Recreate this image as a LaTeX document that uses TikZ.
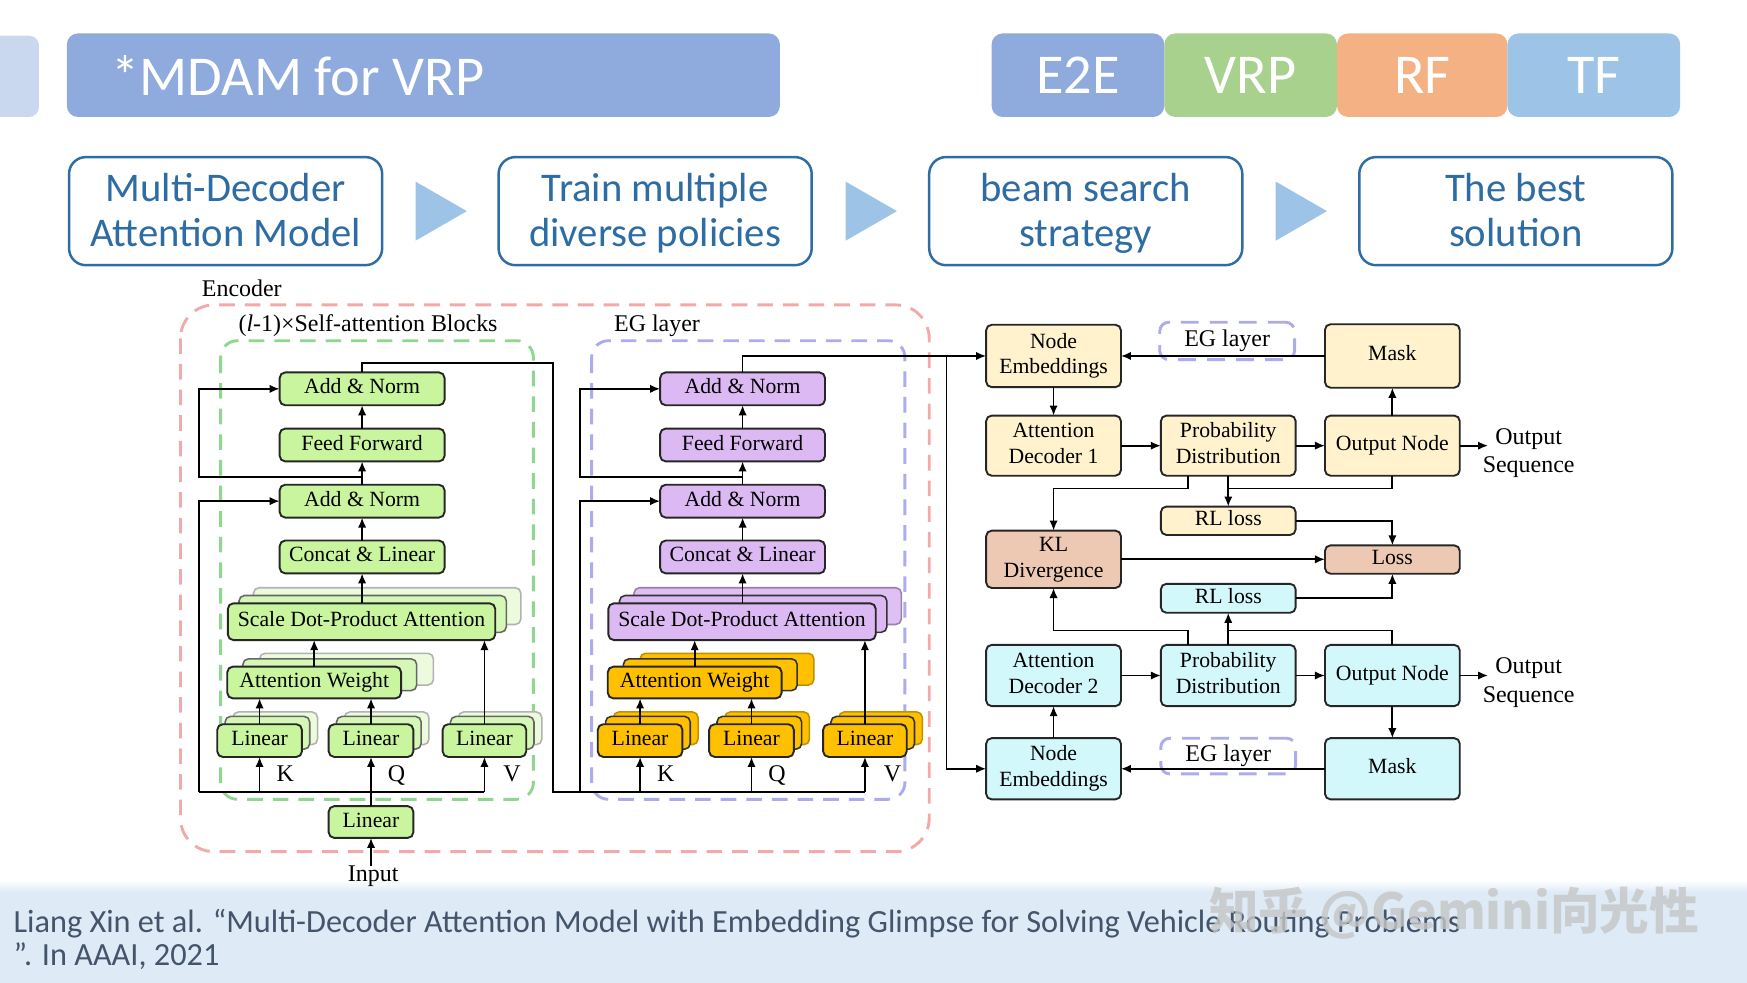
\documentclass[tikz,border=0pt]{standalone}
\usepackage{fontspec}
\setmainfont{Liberation Serif}
\newfontfamily\calfont{Carlito}
\newfontfamily\cjkwm{Noto Sans CJK SC}
\usetikzlibrary{arrows.meta,calc}
\pgfdeclarelayer{back}
\pgfdeclarelayer{mid}
\pgfsetlayers{back,mid,main}
\definecolor{titlec}{HTML}{8FAADC}
\definecolor{tabc}{HTML}{C9D7EF}
\definecolor{vrpc}{HTML}{A9D18E}
\definecolor{rfc}{HTML}{F4B183}
\definecolor{tfc}{HTML}{9DC3E6}
\definecolor{procc}{HTML}{2E6CA4}
\definecolor{bandc}{HTML}{DEEAF6}
\definecolor{refc}{HTML}{44546A}
\definecolor{gfill}{HTML}{C8F59E}
\definecolor{pfill}{HTML}{DCB9F3}
\definecolor{ofill}{HTML}{FFC000}
\definecolor{yfill}{HTML}{FFF2CC}
\definecolor{cfill}{HTML}{D2F8FB}
\definecolor{kfill}{HTML}{EDC8B2}
\definecolor{pinkd}{HTML}{F3A9A9}
\definecolor{greend}{HTML}{8FD68F}
\definecolor{lavd}{HTML}{ABABEE}
\newcommand\dgmfont{\fontsize{19.5}{23}\selectfont}
\newcommand\lblfont{\fontsize{21.5}{25.5}\selectfont}
\newcommand\dstrut{\rule[-5pt]{0pt}{19pt}}
\newcommand\lstrut{\rule[-5.5pt]{0pt}{21pt}}
\newcommand\pstrut{\rule[-6.5pt]{0pt}{36pt}}
\newcommand\stackcp[7]{%
  \draw[#5] ($(#1.south west)+(#6,#7)$) rectangle ($(#1.north east)+(#6,#7)$);
  \draw[#2] ($(#1.south west)+(#3,#4)$) rectangle ($(#1.north east)+(#3,#4)$);}
\begin{document}
\begin{tikzpicture}[x=1pt,y=-1pt,
  blk/.style={draw=black!85, line width=1.7, rounded corners=5, inner sep=0, outer sep=0, align=center, font=\dgmfont},
  one/.style={text height=13.5, text depth=4.5},
  gb/.style={blk,one,fill=gfill},
  pb/.style={blk,one,fill=pfill},
  ob/.style={blk,one,fill=ofill},
  yb/.style={blk,fill=yfill,minimum width=121},
  cb/.style={blk,fill=cfill,minimum width=121},
  kb/.style={blk,fill=kfill,minimum width=121},
  egd/.style={draw=lavd, line width=2.6, dash pattern=on 16pt off 10pt, rounded corners=8, inner sep=0, font=\lblfont},
  lbl/.style={inner sep=0, font=\lblfont},
  cp/.style={line width=1.4, rounded corners=5},
  gc1/.style={cp, draw=black!60, fill=gfill!75!white},
  gc2/.style={cp, draw=black!30, fill=gfill!35!white},
  pc1/.style={cp, draw=black!80, fill=pfill},
  pc2/.style={cp, draw=pfill!70!black, fill=pfill!90!white},
  oc1/.style={cp, draw=black!80, fill=ofill},
  oc2/.style={cp, draw=ofill!75!black, fill=ofill},
  ln/.style={line width=1.6},
  arr/.style={line width=1.6, -{Latex[length=9pt,width=7.5pt]}},
  cont/.style={line width=2.6, dash pattern=on 14pt off 9pt},
  tag/.style={minimum width=155, minimum height=75, rounded corners=10, inner sep=0, text=white, font=\calfont\fontsize{50.5}{60}\selectfont, text height=33, text depth=0},
  proc/.style={draw=procc, line width=2.2, rounded corners=15, fill=white, minimum width=281, minimum height=97, inner sep=0, align=center, text=procc, font=\calfont\fontsize{36.5}{40}\selectfont},
  tri/.style={fill=tfc}
]
\useasboundingbox (0,0) rectangle (1568,882);
\begin{pgfonlayer}{back}
  \fill[white] (0,0) rectangle (1568,882);
  \shade[top color=white, bottom color=bandc] (0,790) rectangle (1568,801);
  \fill[bandc] (0,801) rectangle (1568,882);
  \draw[cont, draw=pinkd, rounded corners=30] (162,273.7) rectangle (834,764.4);
  \draw[cont, draw=greend, rounded corners=15] (198,305.8) rectangle (478.7,717.4);
  \draw[cont, draw=lavd, rounded corners=15] (531,305.8) rectangle (812.2,717.4);
\end{pgfonlayer}

% ---------- header ----------
\fill[tabc, rounded corners=9] (-30,32) rectangle (35,105);
\node[fill=titlec, rounded corners=10, minimum width=640, minimum height=75, inner sep=0] (title) at (380,67.5) {};
\node[anchor=base west, inner sep=0, text=white, font=\calfont\fontsize{50.5}{60}\selectfont] (titletxt) at (100,85.3) {*MDAM for VRP};
\node[tag, fill=titlec] (e2e) at (967.5,67.5) {E2E};
\node[tag, fill=vrpc] (vrp) at (1122.5,67.5) {VRP};
\node[tag, fill=rfc, minimum width=153] (rf) at (1276.5,67.5) {RF};
\node[tag, fill=tfc] (tf) at (1430.5,67.5) {TF};

\node[proc] (p1) at (202.5,189.5) {\pstrut Multi-Decoder\\\pstrut Attention Model};
\node[proc] (p2) at (588,189.5) {\pstrut Train multiple\\\pstrut diverse policies};
\node[proc] (p3) at (974.5,189.5) {\pstrut beam search\\\pstrut strategy};
\node[proc] (p4) at (1360.5,189.5) {\pstrut The best\\\pstrut solution};
\fill[tri] (373,163) -- (419,189.5) -- (373,216) -- cycle;
\fill[tri] (759,163) -- (805,189.5) -- (759,216) -- cycle;
\fill[tri] (1145,163) -- (1191,189.5) -- (1145,216) -- cycle;

% ---------- encoder labels ----------
\node[lbl, anchor=base west] (enc) at (181,266) {Encoder};
\node[lbl, anchor=base west] (sab) at (213.9,297.7) {(\textit{l}-1)×Self-attention Blocks};
\node[lbl, anchor=base west] (egl) at (551,297.7) {EG layer};

% ---------- green block ----------
\node[gb, minimum width=148, minimum height=29.5] (an2) at (325,349) {Add \& Norm};
\node[gb, minimum width=148, minimum height=29.5] (ff) at (325,399.4) {Feed Forward};
\node[gb, minimum width=148, minimum height=29.5] (an1) at (325,449.8) {Add \& Norm};
\node[gb, minimum width=148, minimum height=29.5] (cl) at (325,499.9) {Concat \& Linear};
\node[gb, minimum width=240, minimum height=33] (sdpa) at (324.5,558) {Scale Dot-Product Attention};
\node[gb, minimum width=156, minimum height=28.5] (aw) at (282,612.6) {Attention Weight};
\node[gb, minimum width=76, minimum height=29.4] (lk) at (233,664.7) {Linear};
\node[gb, minimum width=76, minimum height=29.4] (lq) at (333,664.7) {Linear};
\node[gb, minimum width=75, minimum height=29.4] (lv) at (434.8,664.7) {Linear};
\node[gb, minimum width=76, minimum height=28.5] (lin0) at (333,737.8) {Linear};
\node[lbl, anchor=base west] (kg) at (248,701.5) {K};
\node[lbl, anchor=base west] (qg) at (348,701.5) {Q};
\node[lbl, anchor=base west] (vg) at (451.5,701.5) {V};
\node[lbl, anchor=base] (inp) at (335,791.3) {Input};

% ---------- EG block ----------
\node[pb, minimum width=148, minimum height=29.5] (ean2) at (666.5,349) {Add \& Norm};
\node[pb, minimum width=148, minimum height=29.5] (eff) at (666.5,399.4) {Feed Forward};
\node[pb, minimum width=148, minimum height=29.5] (ean1) at (666.5,449.8) {Add \& Norm};
\node[pb, minimum width=148, minimum height=29.5] (ecl) at (666.5,499.9) {Concat \& Linear};
\node[pb, minimum width=240, minimum height=33] (esdpa) at (666,558) {Scale Dot-Product Attention};
\node[ob, minimum width=156, minimum height=28.5] (eaw) at (623.5,612.6) {Attention Weight};
\node[ob, minimum width=76, minimum height=29.4] (elk) at (574.5,664.7) {Linear};
\node[ob, minimum width=76, minimum height=29.4] (elq) at (674.5,664.7) {Linear};
\node[ob, minimum width=75, minimum height=29.4] (elv) at (776.3,664.7) {Linear};
\node[lbl, anchor=base west] (ke) at (589.5,701.5) {K};
\node[lbl, anchor=base west] (qe) at (689.5,701.5) {Q};
\node[lbl, anchor=base west] (ve) at (793,701.5) {V};

\begin{pgfonlayer}{mid}
  \stackcp{sdpa}{gc1}{10}{-7}{gc2}{23}{-14}
  \stackcp{aw}{gc1}{14}{-7}{gc2}{29}{-12}
  \stackcp{lk}{gc1}{7}{-7}{gc2}{14}{-11}
  \stackcp{lq}{gc1}{7}{-7}{gc2}{14}{-11}
  \stackcp{lv}{gc1}{7}{-7}{gc2}{14}{-11}
  \stackcp{esdpa}{pc1}{10}{-7}{pc2}{23}{-14}
  \stackcp{eaw}{oc1}{14}{-7}{oc2}{29}{-12}
  \stackcp{elk}{oc1}{7}{-7}{oc2}{14}{-11}
  \stackcp{elq}{oc1}{7}{-7}{oc2}{14}{-11}
  \stackcp{elv}{oc1}{7}{-7}{oc2}{14}{-11}
\end{pgfonlayer}

% green connectors
\draw[arr] (cl.north) -- (an1.south);
\draw[arr] (an1.north) -- (ff.south);
\draw[arr] (ff.north) -- (an2.south);
\draw[arr] (cl.south |- sdpa.north) -- (cl.south);
\draw[arr] (aw.north) -- (aw.north |- sdpa.south);
\draw[arr] (lk.north) -- (lk.north |- aw.south);
\draw[arr] (lq.north) -- (lq.north |- aw.south);
\draw[arr] (lv.north) -- (lv.north |- sdpa.south);
\draw[arr] (lin0.north) -- (lq.south);
\draw[arr] (lin0.south |- inp.north) -- (lin0.south);
\coordinate (gbusL) at (178.9,711);
\draw[ln] (gbusL) -- (lv.south |- gbusL);
\draw[arr] (lk.south |- gbusL) -- (lk.south);
\draw[arr] (lv.south |- gbusL) -- (lv.south);
\draw[arr] (gbusL) |- (an1.west);
\coordinate (gres) at (325,427.8);
\draw[arr] (gres) -- (gres -| gbusL) |- (an2.west);
% link to EG
\coordinate (ebusL) at (496.6,711);
\coordinate (glink) at (496.6,326.1);
\draw[ln] (an2.north) |- (glink) -- (ebusL) -- (elv.south |- ebusL);
% EG connectors
\draw[arr] (ecl.north) -- (ean1.south);
\draw[arr] (ean1.north) -- (eff.south);
\draw[arr] (eff.north) -- (ean2.south);
\draw[arr] (ecl.south |- esdpa.north) -- (ecl.south);
\draw[arr] (eaw.north) -- (eaw.north |- esdpa.south);
\draw[arr] (elk.north) -- (elk.north |- eaw.south);
\draw[arr] (elq.north) -- (elq.north |- eaw.south);
\draw[arr] (elv.north) -- (elv.north |- esdpa.south);
\draw[arr] (elk.south |- ebusL) -- (elk.south);
\draw[arr] (elq.south |- ebusL) -- (elq.south);
\draw[arr] (elv.south |- ebusL) -- (elv.south);
\coordinate (ebusJ) at (520.4,711);
\draw[arr] (ebusJ) |- (ean1.west);
\coordinate (eres) at (666.5,427.8);
\draw[arr] (eres) -- (eres -| ebusJ) |- (ean2.west);

% ---------- decoders ----------
\node[yb, minimum height=56] (ne1) at (945.6,319.5) {\dstrut Node\\\dstrut Embeddings};
\node[egd, minimum width=121, minimum height=33.5] (eg1) at (1101.4,306) {EG layer};
\node[yb, one, minimum height=57] (mask1) at (1249.7,319.5) {Mask};
\node[yb, minimum height=54] (ad1) at (945.6,400) {\dstrut Attention\\\dstrut Decoder 1};
\node[yb, minimum height=54] (pd1) at (1102.4,400) {\dstrut Probability\\\dstrut Distribution};
\node[yb, one, minimum height=54] (on1) at (1249.7,400) {Output Node};
\node[lbl, align=center] (os1) at (1372,406.5) {\lstrut Output\\\lstrut Sequence};
\node[yb, one, minimum height=25.5] (rl1) at (1102.4,467.4) {RL loss};
\node[kb, minimum height=51.5] (kl) at (945.6,502) {\dstrut KL\\\dstrut Divergence};
\node[kb, one, minimum height=25.5] (loss) at (1249.7,502.2) {Loss};
\node[cb, one, minimum height=26] (rl2) at (1102.4,537) {RL loss};
\node[cb, minimum height=55] (ad2) at (945.6,606.3) {\dstrut Attention\\\dstrut Decoder 2};
\node[cb, minimum height=55] (pd2) at (1102.4,606.3) {\dstrut Probability\\\dstrut Distribution};
\node[cb, one, minimum height=55] (on2) at (1249.7,606.3) {Output Node};
\node[lbl, align=center] (os2) at (1372,612.5) {\lstrut Output\\\lstrut Sequence};
\node[cb, minimum height=55] (ne2) at (945.6,690) {\dstrut Node\\\dstrut Embeddings};
\node[egd, minimum width=121, minimum height=32] (eg2) at (1102.4,678.6) {EG layer};
\node[cb, one, minimum height=55] (mask2) at (1249.7,690) {Mask};

\draw[arr] (ean2.north) |- (ne1.west);
\coordinate (split) at (849.6,319.5);
\draw[arr] (split) |- (ne2.west);
\draw[arr] (mask1.west) -- (ne1.east);
\draw[arr] (ne1.south) -- (ad1.north);
\draw[arr] (ad1.east) -- (pd1.west);
\draw[arr] (pd1.east) -- (on1.west);
\draw[arr] (on1.east) -- ([xshift=5]os1.west |- on1.east);
\draw[arr] (on1.north) -- (mask1.south);
\draw[arr] ([xshift=-36]pd1.south) -- ++(0,11.5) -| (kl.north);
\draw[arr] (pd1.south) -- (rl1.north);
\draw[ln] (on1.south) |- ($(pd1.south)+(0,11.5)$);
\draw[arr] (rl1.east) -| (loss.north);
\draw[arr] (kl.east) -- (kl.east -| loss.west);
\draw[arr] (rl2.east) -| (loss.south);
\draw[arr] ([xshift=-36]pd2.north) -- ++(0,-13) -| (kl.south);
\draw[arr] (pd2.north) -- (rl2.south);
\draw[ln] (on2.north) |- ($(pd2.north)+(0,-13)$);
\draw[arr] (ad2.east) -- (pd2.west);
\draw[arr] (pd2.east) -- (on2.west);
\draw[arr] (on2.east) -- ([xshift=5]os2.west |- on2.east);
\draw[arr] (ne2.north) -- (ad2.south);
\draw[arr] (on2.south) -- (mask2.north);
\draw[arr] (mask2.west) -- (ne2.east);

% ---------- footer ----------
\node[anchor=base west, inner sep=0, text=refc, font=\calfont\fontsize{29}{34}\selectfont] (ref1) at (12,837) {Liang Xin et al. “Multi-Decoder Attention Model with Embedding Glimpse for Solving Vehicle Routing Problems};
\node[anchor=base west, inner sep=0, text=refc, font=\calfont\fontsize{29}{34}\selectfont] (ref2) at (12,866.5) {”. In AAAI, 2021};
\node[anchor=west, inner sep=0, text=gray!45, opacity=0.8, font=\cjkwm\bfseries\fontsize{44.5}{50}\selectfont] (wm) at (1085,820) {知乎 @Gemini向光性};
\end{tikzpicture}
\end{document}
